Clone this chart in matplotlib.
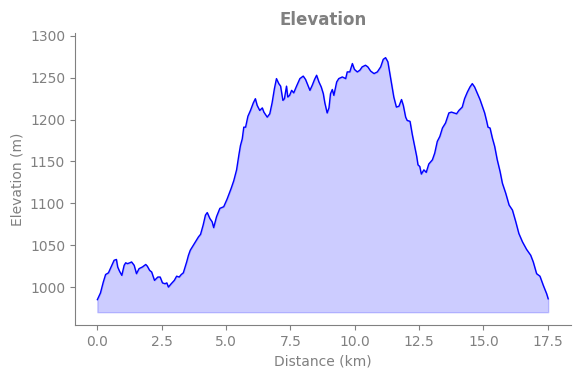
import numpy as np
from matplotlib import pyplot as plt

# Track profile
distance_km = [
    0.00, 0.12, 0.23, 0.32, 0.43, 0.56, 0.65, 0.74, 0.79, 0.86,
    0.95, 1.04, 1.10, 1.17, 1.26, 1.33, 1.43, 1.52, 1.62, 1.75,
    1.88, 1.94, 2.03, 2.11, 2.22, 2.35, 2.44, 2.53, 2.63, 2.70,
    2.76, 2.87, 2.99, 3.08, 3.18, 3.26, 3.34, 3.41, 3.47, 3.54,
    3.61, 3.69, 3.81, 3.93, 4.01, 4.11, 4.20, 4.27, 4.37, 4.46,
    4.52, 4.63, 4.76, 4.91, 5.04, 5.20, 5.30, 5.41, 5.50, 5.56,
    5.63, 5.69, 5.76, 5.85, 5.95, 6.06, 6.14, 6.21, 6.31, 6.41,
    6.47, 6.60, 6.70, 6.79, 6.88, 6.96, 7.05, 7.12, 7.21, 7.27,
    7.35, 7.40, 7.47, 7.55, 7.63, 7.74, 7.87, 8.00, 8.09, 8.18,
    8.26, 8.35, 8.44, 8.52, 8.61, 8.70, 8.78, 8.84, 8.93, 9.00,
    9.06, 9.13, 9.19, 9.30, 9.38, 9.52, 9.65, 9.71, 9.81, 9.91,
    9.99, 10.10, 10.20, 10.29, 10.42, 10.51, 10.62, 10.75, 10.88, 11.01,
    11.11, 11.20, 11.29, 11.39, 11.52, 11.62, 11.72, 11.82, 11.89, 11.98,
    12.04, 12.15, 12.24, 12.33, 12.41, 12.46, 12.53, 12.59, 12.69, 12.78,
    12.88, 13.02, 13.11, 13.21, 13.31, 13.41, 13.53, 13.66, 13.76, 13.86,
    13.96, 14.05, 14.18, 14.27, 14.38, 14.48, 14.57, 14.66, 14.77, 14.87,
    14.96, 15.05, 15.13, 15.18, 15.26, 15.35, 15.44, 15.54, 15.65, 15.74,
    15.87, 16.00, 16.13, 16.26, 16.38, 16.52, 16.68, 16.84, 16.94, 17.07,
    17.20, 17.33, 17.46, 17.52,
]
elevation_m = [
    985, 993, 1006, 1015, 1017, 1026, 1032, 1033, 1024, 1019,
    1014, 1026, 1029, 1028, 1029, 1030, 1026, 1016, 1022, 1024,
    1027, 1025, 1020, 1018, 1008, 1012, 1012, 1005, 1004, 1005,
    1000, 1004, 1008, 1013, 1012, 1015, 1017, 1024, 1030, 1038,
    1044, 1048, 1054, 1060, 1063, 1074, 1086, 1089, 1082, 1078,
    1071, 1084, 1094, 1096, 1105, 1118, 1127, 1140, 1158, 1169,
    1177, 1191, 1191, 1204, 1211, 1220, 1225, 1217, 1211, 1214,
    1209, 1203, 1207, 1220, 1237, 1249, 1243, 1240, 1223, 1225,
    1240, 1227, 1229, 1235, 1232, 1240, 1249, 1252, 1248, 1241,
    1235, 1241, 1248, 1253, 1245, 1239, 1231, 1220, 1208, 1214,
    1231, 1236, 1229, 1245, 1249, 1251, 1249, 1257, 1257, 1267,
    1260, 1257, 1259, 1263, 1265, 1263, 1258, 1255, 1257, 1263,
    1272, 1274, 1269, 1251, 1227, 1215, 1216, 1224, 1217, 1203,
    1199, 1198, 1182, 1168, 1156, 1146, 1144, 1135, 1140, 1137,
    1147, 1152, 1160, 1174, 1180, 1190, 1196, 1208, 1209, 1208,
    1207, 1211, 1215, 1225, 1233, 1239, 1243, 1239, 1231, 1224,
    1216, 1208, 1198, 1191, 1190, 1178, 1168, 1152, 1138, 1124,
    1112, 1098, 1092, 1078, 1064, 1054, 1045, 1038, 1030, 1016,
    1013, 1002, 992, 986,
]
fill_floor = 970

grey = '#808080'

fig = plt.figure(figsize=(5.8, 3.78), dpi=100)
ax = fig.add_axes([0.129, 0.140, 0.855, 0.773])

ax.plot(distance_km, elevation_m, color='blue', linewidth=1)
ax.fill_between(distance_km, elevation_m, fill_floor, color='blue', alpha=0.2)

ax.set_ylim(954.6, 1303.6)
ax.set_title('Elevation', color=grey, fontsize=12, fontweight='bold')
ax.set_xlabel('Distance (km)', color=grey)
ax.set_ylabel('Elevation (m)', color=grey)

ax.spines['top'].set_visible(False)
ax.spines['right'].set_visible(False)
ax.spines['left'].set_color(grey)
ax.spines['bottom'].set_color(grey)
ax.tick_params(colors=grey)

fig.savefig('out.png', dpi=100)
